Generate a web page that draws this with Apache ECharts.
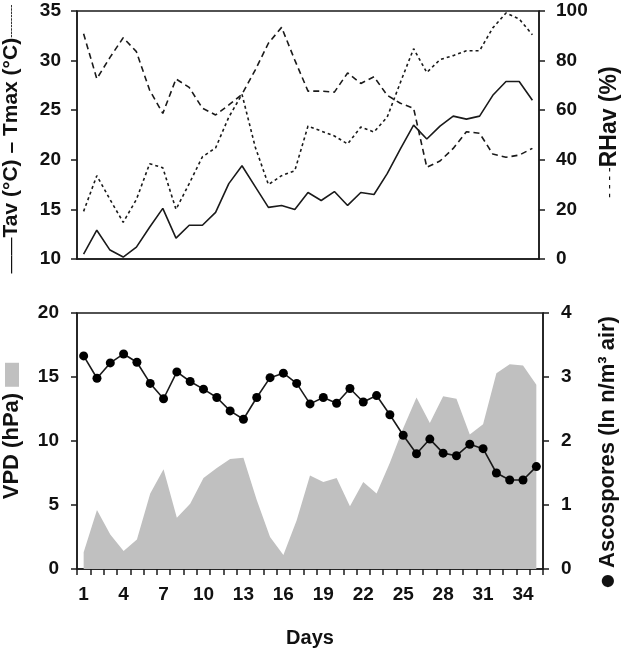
<!DOCTYPE html>
<html>
<head>
<meta charset="utf-8">
<script src="https://cdn.jsdelivr.net/npm/echarts@6/dist/echarts.min.js"></script>
<style>
html,body{margin:0;padding:0;background:#fff;}
#chart{width:621px;height:648px;}
</style>
</head>
<body>
<div id="chart"></div>
<script>
const days = ['1','2','3','4','5','6','7','8','9','10','11','12','13','14','15','16','17','18','19','20','21','22','23','24','25','26','27','28','29','30','31','32','33','34','35'];
const tav = [10.5,12.9,10.9,10.2,11.2,13.2,15.1,12.1,13.4,13.4,14.7,17.6,19.4,17.3,15.2,15.4,15.0,16.7,15.9,16.8,15.4,16.7,16.5,18.6,21.1,23.5,22.1,23.4,24.4,24.1,24.4,26.5,27.9,27.9,26.0];
const tmax = [14.8,18.4,16.0,13.7,16.0,19.6,19.2,15.0,17.6,20.3,21.2,24.3,26.6,21.3,17.5,18.4,18.9,23.4,22.9,22.4,21.6,23.3,22.8,24.3,27.8,31.2,28.8,30.1,30.5,31.0,31.0,33.3,34.8,34.2,32.6];
const rh = [90.8,72.7,81.3,89.2,83.6,68.1,58.7,72.6,69.2,60.8,58.1,62.1,66.4,76.2,87.0,93.4,80.2,67.7,67.7,67.3,75.0,70.8,73.5,66.0,62.8,60.8,37.0,39.5,44.6,51.3,50.7,42.3,41.0,41.9,44.6];
const vpd = [1.3,4.6,2.7,1.4,2.3,5.9,7.8,4.0,5.1,7.1,7.9,8.6,8.7,5.4,2.5,1.1,3.8,7.3,6.8,7.1,4.9,6.8,5.9,8.3,11.0,13.4,11.4,13.5,13.3,10.5,11.3,15.3,16.0,15.9,14.4];
const asco = [3.33,2.98,3.22,3.36,3.23,2.90,2.66,3.08,2.93,2.81,2.68,2.47,2.34,2.68,2.99,3.06,2.90,2.58,2.68,2.59,2.82,2.61,2.71,2.41,2.09,1.80,2.03,1.81,1.77,1.95,1.88,1.50,1.39,1.39,1.60];

const FONT = '"Liberation Sans", Arial, sans-serif';
const INK = '#1a1a1a';
const axisLine = {show:true, lineStyle:{color:INK, width:1.5}};
const tick = {show:true, inside:false, length:6, lineStyle:{color:INK, width:1.5}};
const lbl = {fontSize:19, fontWeight:'bold', color:'#111', fontFamily:FONT};
function nm(size, extra){ return Object.assign({fontSize:size, fontWeight:'bold', color:'#111', fontFamily:FONT}, extra || {}); }

const chart = echarts.init(document.getElementById('chart'), null, {renderer:'canvas'});
chart.setOption({
  animation:false,
  backgroundColor:'#fff',
  grid:[
    {left:77, top:11, width:462, height:248, show:true, borderColor:INK, borderWidth:1.5, containLabel:false, outerBoundsMode:'none'},
    {left:77, top:313, width:466, height:256, show:true, borderColor:INK, borderWidth:1.5, containLabel:false, outerBoundsMode:'none'}
  ],
  xAxis:[
    {type:'category', gridIndex:0, data:days, boundaryGap:true, axisLine:axisLine,
     axisTick:{show:false}, axisLabel:{show:false}, splitLine:{show:false}},
    {type:'category', gridIndex:1, data:days, boundaryGap:true, axisLine:axisLine,
     axisTick:Object.assign({interval:0, alignWithLabel:false}, tick),
     axisLabel:Object.assign({interval:2, margin:16}, lbl), splitLine:{show:false},
     name:'Days', nameLocation:'middle', nameGap:59, nameTextStyle:nm(20)}
  ],
  yAxis:[
    {type:'value', gridIndex:0, position:'left', min:10, max:35, interval:5,
     axisLine:axisLine, axisTick:tick, axisLabel:Object.assign({margin:16}, lbl), splitLine:{show:false},
     name:'{ln|——}Tav (°C) – Tmax (°C){dt|----------}', nameLocation:'middle', nameRotate:90, nameGap:55,
     nameTextStyle:nm(21, {padding:[0,8,0,0], rich:{
       ln:{fontSize:18, fontWeight:'normal', color:'#111', fontFamily:FONT},
       dt:{fontSize:10, fontWeight:'normal', color:'#111', fontFamily:FONT}
     }})},
    {type:'value', gridIndex:0, position:'right', min:0, max:100, interval:20,
     axisLine:axisLine, axisTick:tick, axisLabel:Object.assign({margin:17}, lbl), splitLine:{show:false},
     name:'{dt|- - - -}RHav (%)', nameLocation:'middle', nameRotate:90, nameGap:58,
     nameTextStyle:nm(23, {padding:[0,0,0,6], rich:{
       dt:{fontSize:14, fontWeight:'normal', color:'#111', fontFamily:FONT}
     }})},
    {type:'value', gridIndex:1, position:'left', min:0, max:20, interval:5,
     axisLine:axisLine, axisTick:tick, axisLabel:Object.assign({margin:18}, lbl), splitLine:{show:false},
     name:'VPD (hPa) {sq| }', nameLocation:'middle', nameRotate:90, nameGap:54,
     nameTextStyle:nm(22, {padding:[0,0,0,20], rich:{
       sq:{width:24, height:14, backgroundColor:'#c0c0c0', fontSize:14}
     }})},
    {type:'value', gridIndex:1, position:'right', min:0, max:4, interval:1,
     axisLine:axisLine, axisTick:tick, axisLabel:Object.assign({margin:18}, lbl), splitLine:{show:false},
     name:'{dot|●} Ascospores (ln n/m³ air)', nameLocation:'middle', nameRotate:90, nameGap:54,
     nameTextStyle:nm(22, {padding:[0,22,0,0], rich:{
       dot:{fontSize:16, color:'#111', fontFamily:'"DejaVu Sans", sans-serif'}
     }})}
  ],
  series:[
    {name:'Tav', type:'line', xAxisIndex:0, yAxisIndex:0, data:tav, symbol:'none',
     lineStyle:{color:INK, width:1.6}},
    {name:'Tmax', type:'line', xAxisIndex:0, yAxisIndex:0, data:tmax, symbol:'none',
     lineStyle:{color:INK, width:1.6, type:[3,3]}},
    {name:'RHav', type:'line', xAxisIndex:0, yAxisIndex:1, data:rh, symbol:'none',
     lineStyle:{color:INK, width:1.6, type:[6,4]}},
    {name:'VPD', type:'line', xAxisIndex:1, yAxisIndex:2, data:vpd, symbol:'none',
     lineStyle:{width:0, color:'#c0c0c0'}, areaStyle:{color:'#c0c0c0', opacity:1}},
    {name:'Ascospores', type:'line', xAxisIndex:1, yAxisIndex:3, data:asco, symbol:'circle', symbolSize:9,
     showAllSymbol:true, itemStyle:{color:'#000', borderWidth:0}, lineStyle:{color:INK, width:1.6}}
  ]
});
</script>
</body>
</html>
